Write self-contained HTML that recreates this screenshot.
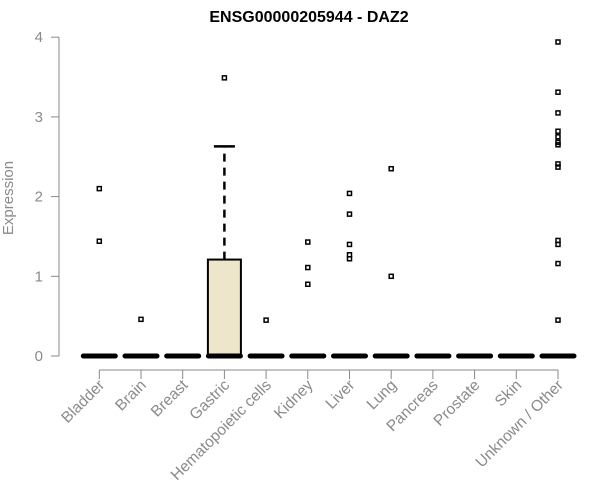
<!DOCTYPE html>
<html><head><meta charset="utf-8"><style>
body{margin:0;background:#fff;}
svg{display:block;font-family:"Liberation Sans",Arial,sans-serif;}
</style></head><body>
<svg id="chart" width="600" height="500" viewBox="0 0 600 500">
<text x="309" y="22" text-anchor="middle" font-size="16" font-weight="bold" fill="#000">ENSG00000205944 - DAZ2</text>
<text transform="translate(13,198) rotate(-90)" text-anchor="middle" font-size="15" fill="#8a8a8a">Expression</text>
<g id="axes"></g>
<g id="marks"></g>
</svg>
<script>
const categories=["Bladder","Brain","Breast","Gastric","Hematopoietic cells","Kidney","Liver","Lung","Pancreas","Prostate","Skin","Unknown / Other"];
const q1=[0,0,0,0,0,0,0,0,0,0,0,0];
const medians=[0,0,0,0,0,0,0,0,0,0,0,0];
const q3=[0,0,0,1.21,0,0,0,0,0,0,0,0];
const whiskerHigh=[0,0,0,2.63,0,0,0,0,0,0,0,0];
const outliers=[[2.1,1.44],[0.46],[],[3.49],[0.45],[1.43,1.11,0.9],[2.04,1.78,1.4,1.27,1.22],[2.35,1.0],[],[],[],[3.94,3.31,3.05,2.82,2.75,2.68,2.65,2.41,2.37,1.45,1.4,1.16,0.45]];
const yTicks=[0,1,2,3,4];

const NS="http://www.w3.org/2000/svg";
const y=v=>356-v*79.7;
const x=i=>99.3+i*41.7;
const axes=document.getElementById('axes'),marks=document.getElementById('marks');
function mk(p,tag,attrs){const e=document.createElementNS(NS,tag);for(const k in attrs)e.setAttribute(k,attrs[k]);p.appendChild(e);return e;}

let yl=mk(axes,'line',{x1:59,x2:59,y1:y(4),y2:y(0),stroke:'#888','stroke-width':1});


yTicks.forEach(t=>{
  const tk=mk(axes,'line',{x1:51,x2:59,y1:y(t),y2:y(t),stroke:'#888'});
  
  
  const tl=mk(axes,'text',{x:43,y:y(t)+5,'text-anchor':'end','font-size':15,fill:'#8a8a8a'});
  tl.textContent=t;
  
  
});
let xl=mk(axes,'line',{x1:x(0),x2:x(categories.length-1),y1:370,y2:370,stroke:'#888'});


categories.forEach((c,i)=>{
  const cx=x(i);
  const tk=mk(axes,'line',{x1:cx,x2:cx,y1:370,y2:379,stroke:'#888'});
  
  
  const tl=mk(axes,'text',{transform:`translate(${cx+6},${386}) rotate(-45)`,'text-anchor':'end','font-size':15.5,fill:'#8a8a8a'});
  tl.textContent=c;
  
  

  const g=mk(marks,'g',{});
  
  
  if(q3[i]>q1[i]){
    mk(g,'line',{x1:cx,x2:cx,y1:y(q3[i]),y2:y(whiskerHigh[i]),stroke:'#000','stroke-width':2.5,'stroke-dasharray':'8,6'});
    mk(g,'line',{x1:cx-10.5,x2:cx+10.5,y1:y(whiskerHigh[i]),y2:y(whiskerHigh[i]),stroke:'#000','stroke-width':2.5});
    mk(g,'rect',{x:cx-16.5,y:y(q3[i]),width:33,height:y(q1[i])-y(q3[i]),fill:'#ede6cb',stroke:'#000','stroke-width':2});
  }
  mk(g,'line',{x1:cx-16,x2:cx+16,y1:y(medians[i]),y2:y(medians[i]),stroke:'#000','stroke-width':5,'stroke-linecap':'round'});
  outliers[i].forEach(v=>{
    const o=mk(g,'rect',{x:cx-2,y:y(v)-2,width:4,height:4,fill:'none',stroke:'#000','stroke-width':1.5});
    
    
  });
});
</script>
</body></html>
